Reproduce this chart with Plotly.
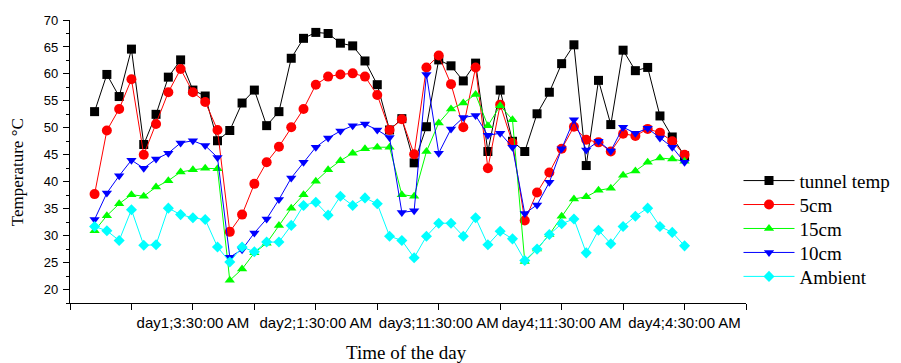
import plotly.graph_objects as go

# ---- data ----
x_index = list(range(49))
tick_positions = [8, 18, 28, 38, 48]
tick_labels = ["day1;3:30:00 AM", "day2;1:30:00 AM", "day3;11:30:00 AM",
               "day4;11:30:00 AM", "day4;4:30:00 AM"]
minor_tick_positions = [-2, 3, 13, 23, 33, 43, 53]

tunnel_temp = [53.0, 59.9, 55.8, 64.6, 46.9, 52.5, 59.4, 62.6, 57.0, 55.9,
               47.6, 49.5, 54.6, 57.0, 50.4, 53.0, 62.9, 66.6, 67.7, 67.5,
               65.7, 65.2, 62.4, 58.0, 49.6, 51.7, 43.5, 50.2, 62.6, 61.5,
               58.7, 62.0, 45.6, 57.0, 47.5, 45.6, 52.6, 56.6, 61.9, 65.4,
               43.0, 58.8, 50.6, 64.4, 60.6, 61.2, 52.2, 48.3, 44.8]
cm5 = [37.7, 49.5, 53.5, 59.0, 45.0, 50.7, 56.6, 60.9, 56.6, 54.8,
       49.6, 30.7, 33.9, 39.6, 43.6, 46.5, 50.1, 53.5, 58.0, 59.5,
       59.9, 60.1, 59.5, 56.1, 49.6, 51.6, 45.1, 61.2, 63.4, 58.1,
       50.1, 61.2, 42.5, 54.3, 47.2, 32.8, 38.0, 41.7, 46.1, 50.2,
       47.8, 47.3, 45.6, 48.9, 48.5, 49.8, 49.1, 47.5, 45.0]
cm15 = [30.9, 33.7, 35.9, 37.6, 37.3, 39.0, 40.2, 41.8, 42.2, 42.5,
        42.4, 21.7, 23.8, 26.8, 28.6, 31.9, 35.1, 37.6, 40.1, 42.2,
        43.9, 45.3, 46.1, 46.4, 46.4, 37.6, 37.3, 45.6, 50.9, 53.5,
        54.6, 56.2, 50.4, 54.1, 51.5, 25.2, 27.5, 30.2, 33.6, 36.8,
        37.2, 38.4, 38.8, 41.2, 42.0, 43.6, 44.4, 44.2, 43.8]
cm10 = [33.0, 37.9, 41.1, 44.0, 42.5, 44.2, 45.3, 47.2, 47.6, 46.7,
        44.5, 26.0, 27.4, 30.5, 33.1, 36.7, 40.7, 43.6, 46.4, 48.1,
        49.4, 50.4, 50.7, 49.6, 48.2, 34.3, 34.6, 59.9, 45.3, 49.8,
        51.9, 52.3, 48.6, 49.0, 46.4, 34.1, 35.7, 39.9, 46.1, 51.5,
        45.9, 47.5, 45.7, 50.1, 49.0, 49.9, 48.1, 46.4, 43.6]
ambient = [31.7, 30.9, 29.1, 34.8, 28.2, 28.3, 35.1, 33.9, 33.3, 33.0,
           27.9, 25.1, 27.9, 27.0, 28.8, 28.8, 31.9, 35.6, 36.2, 33.8,
           37.3, 35.6, 37.0, 35.9, 29.9, 29.1, 25.9, 29.9, 32.3, 32.3,
           29.9, 33.3, 28.3, 30.8, 29.4, 25.4, 27.5, 30.2, 32.2, 33.1,
           26.8, 31.0, 28.5, 31.7, 33.6, 35.1, 31.7, 30.6, 28.1]

series_names = ["tunnel temp", "5cm", "15cm", "10cm", "Ambient"]
series_values = [tunnel_temp, cm5, cm15, cm10, ambient]
series_colors = ["#000000", "#FF0000", "#00FF00", "#0000FF", "#00FFFF"]
series_symbols = ["square", "circle", "triangle-up", "triangle-down", "diamond"]
series_sizes = [9, 10, 9, 9, 8.5]

# ---- layout constants (page body has an 8px margin) ----
OFF = 8
W, H = 901 - OFF, 363 - OFF
ML, MT = 70 - OFF, 20 - OFF
MR, MB = 154.5, 59.5
plot_w = W - ML - MR
plot_h = H - MT - MB
legend_rows_px = [181, 205, 229, 253, 277]   # window pixel centres


def py(ypx):
    # window pixel y -> paper y
    return (H - MB - (ypx - OFF)) / plot_h


def px(xpx):
    return ((xpx - OFF) - ML) / plot_w


fig = go.Figure()
legend_ids = ["legend", "legend2", "legend3", "legend4", "legend5"]
for name, vals, col, sym, sz, lid in zip(series_names, series_values, series_colors,
                                         series_symbols, series_sizes, legend_ids):
    fig.add_trace(go.Scatter(
        x=x_index, y=vals, name=name, mode="lines+markers",
        line=dict(color=col, width=1),
        marker=dict(symbol=sym, size=sz, color=col, line=dict(width=0)),
        legend=lid,
    ))

legend_layout = {}
for lid, ypx in zip(legend_ids, legend_rows_px):
    legend_layout[lid] = dict(
        x=px(739), xanchor="left", y=py(ypx), yanchor="middle",
        font=dict(family="Liberation Serif", size=19, color="black"),
        bgcolor="rgba(0,0,0,0)", borderwidth=0, itemwidth=51,
    )

fig.update_layout(
    width=W, height=H,
    margin=dict(l=ML, r=MR, t=MT, b=MB, autoexpand=False),
    paper_bgcolor="white", plot_bgcolor="white",
    showlegend=True,
    **legend_layout,
    xaxis=dict(
        range=[-2, 53], showgrid=False, zeroline=False, automargin=False,
        showline=True, linecolor="black", linewidth=1.3,
        ticks="outside", ticklen=6, tickwidth=1.2, tickcolor="black",
        tickmode="array", tickvals=tick_positions, ticktext=tick_labels,
        tickangle=0,
        tickfont=dict(family="Liberation Sans", size=15, color="black"),
        minor=dict(tickmode="array", tickvals=minor_tick_positions,
                   ticks="outside", ticklen=6, tickwidth=1.2, tickcolor="black"),
    ),
    yaxis=dict(
        range=[17.5, 70], showgrid=False, zeroline=False, automargin=False,
        showline=True, linecolor="black", linewidth=1.3,
        ticks="outside", ticklen=6, tickwidth=1.2, tickcolor="black",
        tickmode="linear", tick0=20, dtick=5,
        tickfont=dict(family="Liberation Sans", size=13, color="black"),
        ticklabelstandoff=2,
        minor=dict(dtick=2.5, ticks="outside", ticklen=3, tickwidth=1.2,
                   tickcolor="black"),
    ),
    annotations=[
        dict(text="Temperature °C", xref="paper", yref="paper",
             x=px(17), y=py(172.5), textangle=-90,
             showarrow=False, xanchor="center", yanchor="middle",
             font=dict(family="Liberation Serif", size=17, color="black")),
        dict(text="Time of the day", xref="paper", yref="paper",
             x=px(407), y=py(353),
             showarrow=False, xanchor="center", yanchor="middle",
             font=dict(family="Liberation Serif", size=19, color="black")),
    ],
)

fig.write_html("out.html")
